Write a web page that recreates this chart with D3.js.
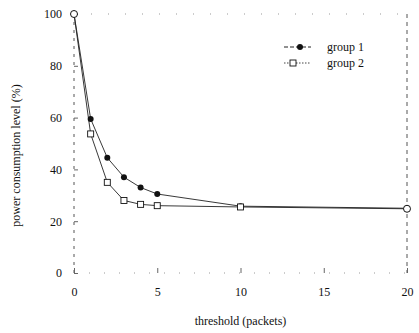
<!DOCTYPE html>
<html>
<head>
<meta charset="utf-8">
<script src="https://cdn.jsdelivr.net/npm/d3@7"></script>
<style>
  body { margin: 0; background: #fff; }
  text { font-family: "Liberation Serif", "DejaVu Serif", serif; fill: #111; }
</style>
</head>
<body>
<div id="chart"></div>
<script>
// Data
const thresholds = [0, 1, 2, 3, 4, 5, 10, 20];
const group1 = [100, 59.5, 44.5, 37, 33, 30.5, 25.8, 25];
const group2 = [100, 53.7, 35, 28, 26.5, 26, 25.5, 24.8];
const xTicks = [0, 5, 10, 15, 20];
const yTicks = [0, 20, 40, 60, 80, 100];

var margin = { top: 14, right: 12, bottom: 60, left: 74 },
  width = 419 - margin.left - margin.right,
  height = 333 - margin.top - margin.bottom;

const svg = d3.select("#chart")
  .append("svg")
  .attr("width", 419)
  .attr("height", 333)
  .append("g")
  .attr("transform", `translate(${margin.left}, ${margin.top})`);

const x = d3.scaleLinear().domain([0, 20]).range([0, 333]);
const y = d3.scaleLinear().domain([0, 100]).range([259, 0]);

// Faded frame (scanned look)
const frame = svg.append("g")
  .attr("fill", "none")
  .attr("stroke", "#555")
  .attr("stroke-width", 1);
frame.append("line").attr("x1", 0).attr("x2", 0).attr("y1", y(100)).attr("y2", y(0))
  .attr("stroke-dasharray", "3,5");
frame.append("line").attr("x1", x(20)).attr("x2", x(20)).attr("y1", y(100)).attr("y2", y(0))
  .attr("stroke-dasharray", "4,4");
frame.append("line").attr("x1", 0).attr("x2", x(20)).attr("y1", y(0)).attr("y2", y(0))
  .attr("stroke", "#999").attr("stroke-dasharray", "1,14");
frame.append("line").attr("x1", 0).attr("x2", x(20)).attr("y1", y(100)).attr("y2", y(100))
  .attr("stroke", "#999").attr("stroke-dasharray", "1,16");

// X axis ticks
const xAxis = svg.append("g")
  .attr("transform", `translate(0, ${y(0)})`)
  .call(d3.axisBottom(x).tickValues(xTicks).tickSize(-5).tickPadding(14));
xAxis.select(".domain").remove();
xAxis.selectAll(".tick line").attr("stroke", "#666");
xAxis.selectAll("text").attr("font-size", "12px")
  .style("font-family", "Liberation Serif").attr("fill", "#111");

// Y axis ticks
const yAxis = svg.append("g")
  .call(d3.axisLeft(y).tickValues(yTicks).tickSize(-4).tickPadding(12));
yAxis.select(".domain").remove();
yAxis.selectAll(".tick line").attr("stroke", "#666");
yAxis.selectAll("text").attr("font-size", "12px")
  .style("font-family", "Liberation Serif").attr("fill", "#111");

// Lines
const line = d3.line()
  .x(function (d, i) { return x(thresholds[i]); })
  .y(function (d) { return y(d); });

svg.append("path")
  .datum(group2)
  .attr("d", line)
  .attr("fill", "none")
  .attr("stroke", "#222")
  .attr("stroke-width", 0.9);

svg.append("path")
  .datum(group1)
  .attr("d", line)
  .attr("fill", "none")
  .attr("stroke", "#222")
  .attr("stroke-width", 0.9);

// Circles of group 1
svg.selectAll("circ")
  .data(group1)
  .join("circle")
  .attr("cx", function (d, i) { return x(thresholds[i]); })
  .attr("cy", function (d) { return y(d); })
  .attr("r", 3)
  .style("fill", "#111");

// Squares of group 2 (end points drawn as open circles below)
svg.selectAll("sq")
  .data(group2.slice(1, 7))
  .join("rect")
  .attr("x", function (d, i) { return x(thresholds[i + 1]) - 3; })
  .attr("y", function (d) { return y(d) - 3; })
  .attr("width", 6)
  .attr("height", 6)
  .attr("fill", "#fff")
  .attr("stroke", "#111")
  .attr("stroke-width", 0.9);

// Open circles at the end points
svg.selectAll("endpt")
  .data([0, 7])
  .join("circle")
  .attr("cx", function (d) { return x(thresholds[d]); })
  .attr("cy", function (d) { return y(group2[d]); })
  .attr("r", 3.5)
  .attr("fill", "#fff")
  .attr("stroke", "#111")
  .attr("stroke-width", 1);

// Legend
const lg = svg.append("g").attr("transform", "translate(210, 33)");
lg.append("line").attr("x1", 0).attr("x2", 27).attr("y1", 0).attr("y2", 0)
  .attr("stroke", "#222").attr("stroke-dasharray", "4,2");
lg.append("circle").attr("cx", 16).attr("cy", 0).attr("r", 3).attr("fill", "#111");
lg.append("text").attr("x", 43).attr("y", 4).attr("font-size", "12px").text("group 1");

lg.append("line").attr("x1", 0).attr("x2", 27).attr("y1", 16).attr("y2", 16)
  .attr("stroke", "#444").attr("stroke-dasharray", "1.5,1.5");
lg.append("rect").attr("x", 6).attr("y", 13).attr("width", 6).attr("height", 6)
  .attr("fill", "#fff").attr("stroke", "#111").attr("stroke-width", 0.9);
lg.append("text").attr("x", 43).attr("y", 20).attr("font-size", "12px").text("group 2");

// Axis labels
svg.append("text")
  .attr("x", x(10))
  .attr("y", 311)
  .attr("text-anchor", "middle")
  .attr("font-size", "12px")
  .text("threshold (packets)");

svg.append("text")
  .attr("transform", `translate(-54, ${y(50) + 12}) rotate(-90)`)
  .attr("text-anchor", "middle")
  .attr("font-size", "12px")
  .text("power consumption level (%)");
</script>
</body>
</html>
